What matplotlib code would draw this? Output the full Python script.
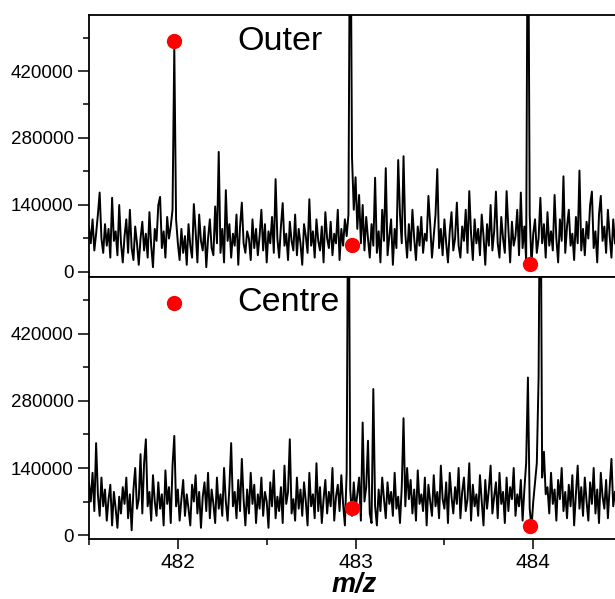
import numpy as np
import matplotlib
matplotlib.use("Agg")
import matplotlib.pyplot as plt
from matplotlib.ticker import MultipleLocator

plt.rcParams['font.family'] = ['Liberation Sans', 'DejaVu Sans']

# m/z sampling grid of the recorded spectra (0.01 step)
mz_start, mz_step, n_points = 481.50, 0.01, 297
mz = mz_start + mz_step * np.arange(n_points)

# Intensities in thousands of counts
outer_k = [
    95, 60, 110, 45, 80, 120, 166, 70, 40, 100,
    55, 90, 30, 155, 65, 85, 35, 140, 60, 20,
    75, 110, 40, 130, 50, 25, 95, 60, 15, 70,
    105, 45, 80, 30, 125, 55, 10, 90, 65, 140,
    157, 50, 85, 30, 115, 70, 95, 130, 470, 110,
    60, 25, 90, 40, 75, 15, 100, 55, 30, 142,
    85, 20, 120, 65, 45, 95, 10, 70, 110, 50,
    35, 137, 60, 251, 40, 90, 20, 171, 65, 100,
    30, 80, 55, 120, 15, 95, 145, 60, 40, 85,
    70, 25, 110, 50, 90, 35, 75, 130, 45, 100,
    20, 85, 60, 115, 40, 194, 70, 30, 95, 144,
    55, 80, 25, 105, 65, 45, 120, 35, 90, 60,
    15, 100, 75, 40, 152, 55, 85, 30, 110, 65,
    45, 95, 20, 125, 70, 50, 105, 35, 80, 60,
    130, 25, 90, 55, 110, 75, 120, 900, 240, 130,
    198, 90, 161, 60, 140, 45, 115, 70, 30, 100,
    55, 197, 40, 85, 20, 130, 65, 217, 35, 75,
    110, 15, 90, 50, 234, 120, 60, 242, 80, 30,
    100, 45, 130, 70, 25, 95, 55, 115, 40, 80,
    65, 159, 100, 30, 75, 120, 215, 50, 90, 35,
    110, 60, 20, 85, 125, 45, 70, 145, 55, 30,
    95, 65, 130, 40, 169, 80, 25, 110, 60, 90,
    35, 120, 75, 15, 100, 55, 140, 45, 85, 168,
    60, 30, 115, 70, 40, 169, 90, 20, 105, 55,
    75, 130, 35, 166, 50, 95, 25, 900, 120, 15,
    80, 110, 40, 70, 155, 60, 100, 30, 125, 55,
    85, 45, 161, 70, 20, 110, 65, 200, 40, 95,
    130, 55, 80, 25, 115, 60, 212, 45, 90, 35,
    105, 70, 140, 168, 50, 85, 20, 120, 159, 65,
    95, 40, 130, 75, 30, 110, 60,
]

centre_k = [
    110, 70, 130, 50, 192, 85, 40, 120, 60, 95,
    30, 75, 105, 20, 90, 55, 15, 80, 45, 100,
    65, 120, 35, 85, 10, 95, 140, 55, 75, 169,
    45, 150, 200, 60, 90, 30, 125, 70, 40, 110,
    55, 85, 20, 135, 65, 100, 25, 145, 207, 60,
    95, 30, 75, 115, 40, 85, 55, 20, 105, 70,
    125, 45, 90, 15, 80, 110, 50, 130, 35, 95,
    65, 25, 120, 55, 85, 40, 140, 70, 30, 100,
    192, 60, 90, 35, 115, 50, 159, 75, 20, 95,
    45, 130, 65, 105, 25, 85, 55, 120, 40, 90,
    70, 15, 110, 60, 135, 35, 80, 50, 100, 25,
    145, 65, 90, 200, 45, 75, 30, 120, 55, 95,
    40, 110, 70, 20, 130, 60, 85, 35, 150, 50,
    100, 25, 75, 115, 45, 90, 60, 140, 30, 80,
    105, 50, 125, 65, 20, 130, 900, 95, 40, 110,
    55, 85, 120, 30, 235, 70, 100, 197, 45, 25,
    305, 60, 20, 95, 50, 120, 75, 35, 110, 65,
    90, 40, 130, 55, 80, 25, 100, 244, 60, 140,
    75, 115, 45, 95, 30, 135, 65, 85, 50, 120,
    20, 105, 70, 40, 125, 60, 90, 35, 145, 75,
    55, 110, 25, 130, 80, 45, 100, 65, 140, 35,
    90, 120, 50, 75, 150, 30, 105, 60, 85, 40,
    125, 70, 20, 115, 55, 95, 145, 45, 80, 110,
    35, 130, 65, 90, 25, 120, 50, 100, 75, 140,
    40, 85, 60, 115, 30, 95, 150, 329, 55, 15,
    70, 110, 150, 329, 900, 120, 174, 85, 100, 45,
    130, 65, 95, 30, 115, 75, 140, 50, 90, 35,
    105, 60, 125, 20, 85, 145, 55, 100, 40, 120,
    70, 30, 110, 65, 140, 45, 95, 25, 130, 80,
    55, 115, 35, 100, 159, 60, 90,
]

# Theoretical isotope pattern markers
iso_mz = [481.98, 482.98, 483.98]
iso_outer = [482000, 56000, 17000]
iso_centre = [485000, 56000, 19000]

panel_labels = ["Outer", "Centre"]
y_ticks = [0, 140000, 280000, 420000]
x_ticks = [482, 483, 484]

W, H = 615, 599
fig = plt.figure(figsize=(W / 100, H / 100), dpi=100)

left_px, right_px = 89, 615
panels_px = [(15, 277), (277, 539)]
ylims = [(-10448, 537015), (-8358, 539104)]

series = [
    (np.array(outer_k) * 1000, iso_outer),
    (np.array(centre_k) * 1000, iso_centre),
]

axes = []
for k, ((top_px, bot_px), ylim, (inten, iso)) in enumerate(zip(panels_px, ylims, series)):
    ax = fig.add_axes([left_px / W, 1 - bot_px / H,
                       (right_px - left_px) / W, (bot_px - top_px) / H])
    ax.plot(mz, inten, color="black", lw=1.4, zorder=2)
    ax.plot(iso_mz, iso, "o", color="#ff0000", ms=11, mec="none", zorder=3)
    ax.set_xlim(481.5, 484.46)
    ax.set_ylim(*ylim)
    ax.set_yticks(y_ticks)
    ax.yaxis.set_minor_locator(MultipleLocator(70000))
    ax.set_yticklabels([f"{v:d}" for v in y_ticks])
    ax.tick_params(axis="y", which="major", direction="out", length=8, width=1.1,
                   labelsize=13.5, pad=3)
    ax.tick_params(axis="y", which="minor", direction="out", length=4.5, width=1.1)
    ax.spines["right"].set_visible(False)
    for s in ("left", "top", "bottom"):
        ax.spines[s].set_linewidth(1.3)
    ax.text(482.336, iso[0], panel_labels[k], fontsize=24.5, ha="left", va="center")
    axes.append(ax)

axes[0].tick_params(axis="x", which="both", bottom=False, labelbottom=False)
axes[1].set_xticks(x_ticks)
axes[1].xaxis.set_minor_locator(MultipleLocator(0.5))
axes[1].tick_params(axis="x", which="major", direction="out", length=7, width=1.1,
                    labelsize=15, pad=3)
axes[1].tick_params(axis="x", which="minor", direction="out", length=4.5, width=1.1)

# x-axis title placed in figure coordinates so it stays inside the canvas
fig.text(354 / W, 1 / H, "m/z", fontsize=19.5, fontweight="bold", fontstyle="italic",
         ha="center", va="bottom")

fig.savefig("out.png", dpi=100)
